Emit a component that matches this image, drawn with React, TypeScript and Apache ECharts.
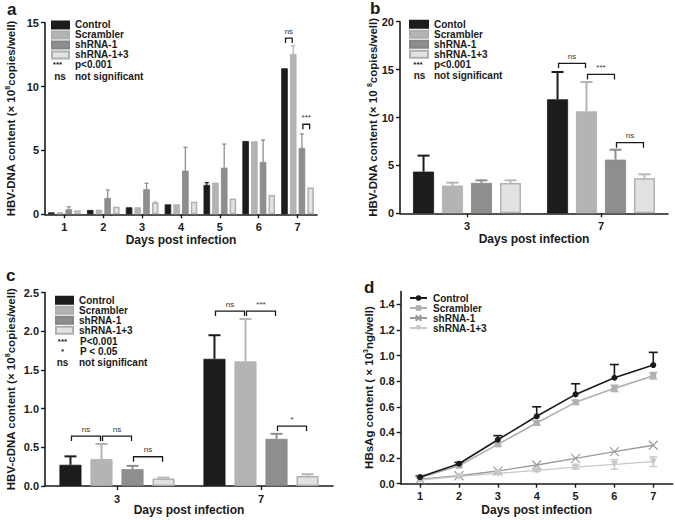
import React, { useEffect, useRef } from 'react';
import * as echarts from 'echarts';

const FONT = '"Liberation Sans", Arial, Helvetica, sans-serif';
const INK = '#1a1a1a';

// ---------- shared ----------
const groupNames = ['Control', 'Scrambler', 'shRNA-1', 'shRNA-1+3'];
const groupNamesB = ['Contol', 'Scrambler', 'shRNA-1', 'shRNA-1+3'];
const barFill = ['#1c1c1c', '#b4b4b4', '#8e8e8e', '#e2e2e2'];
const barBorder = ['#1c1c1c', '#adadad', '#858585', '#b0b0b0'];

// ---------- panel a ----------
const aDays = ['1', '2', '3', '4', '5', '6', '7'];
const aControl = [0.15, 0.34, 0.55, 0.78, 2.3, 5.74, 11.43];
const aControlSD = [0, 0, 0, 0, 0.18, 0, 0];
const aScrambler = [0.15, 0.36, 0.55, 0.78, 2.48, 5.71, 12.55];
const aScramblerSD = [0, 0, 0, 0, 0, 0, 0.65];
const aShRNA1 = [0.39, 1.28, 1.96, 3.42, 3.65, 4.1, 5.19];
const aShRNA1SD = [0.2, 0.62, 0.47, 1.82, 1.85, 1.72, 1.1];
const aShRNA13 = [0.29, 0.6, 0.92, 0.99, 1.23, 1.51, 2.09];
const aShRNA13SD = [0, 0, 0.05, 0, 0, 0, 0];
// [category, fromBar, toBar, y, label]
const aBrackets: [number, number, number, number, string][] = [
  [6, 0, 1, 13.8, 'ns'],
  [6, 2, 3, 7.05, '***'],
];

// ---------- panel b ----------
const bDays = ['3', '7'];
const bControl = [4.35, 11.9];
const bControlSD = [1.67, 2.85];
const bScrambler = [2.89, 10.64];
const bScramblerSD = [0.31, 3.06];
const bShRNA1 = [3.17, 5.6];
const bShRNA1SD = [0.27, 1.04];
const bShRNA13 = [3.17, 3.65];
const bShRNA13SD = [0.27, 0.42];
const bBrackets: [number, number, number, number, string][] = [
  [1, 0, 1, 15.66, 'ns'],
  [1, 1, 2, 14.5, '***'],
  [1, 2, 3, 7.37, 'ns'],
];

// ---------- panel c ----------
const cDays = ['3', '7'];
const cControl = [0.274, 1.643];
const cControlSD = [0.109, 0.305];
const cScrambler = [0.348, 1.609];
const cScramblerSD = [0.195, 0.548];
const cShRNA1 = [0.217, 0.609];
const cShRNA1SD = [0.043, 0.065];
const cShRNA13 = [0.096, 0.13];
const cShRNA13SD = [0.013, 0.022];
const cBrackets: [number, number, number, number, string][] = [
  [0, 0, 1, 0.645, 'ns'],
  [0, 1, 2, 0.645, 'ns'],
  [0, 2, 3, 0.378, 'ns'],
  [1, 0, 1, 2.26, 'ns'],
  [1, 1, 2, 2.26, '***'],
  [1, 2, 3, 0.774, '*'],
];

// ---------- panel d ----------
const dDays = ['1', '2', '3', '4', '5', '6', '7'];
const dControl = [0.052, 0.156, 0.343, 0.526, 0.697, 0.827, 0.926];
const dControlSD = [0.005, 0.01, 0.032, 0.074, 0.083, 0.103, 0.099];
const dScrambler = [0.047, 0.14, 0.307, 0.474, 0.635, 0.744, 0.843];
const dScramblerSD = [0.005, 0.01, 0.012, 0.015, 0.015, 0.025, 0.025];
const dShRNA1 = [0.036, 0.062, 0.099, 0.146, 0.198, 0.25, 0.3];
const dShRNA13 = [0.029, 0.057, 0.08, 0.104, 0.13, 0.151, 0.172];
const dShRNA13SD = [0, 0.005, 0.008, 0.01, 0.015, 0.037, 0.038];
const dTicks = [0, 0.2, 0.4, 0.6, 0.8, 1.0, 1.2, 1.4];

// ---------- helpers ----------
function axisStyle() {
  return {
    axisLine: { show: true, lineStyle: { color: INK, width: 1.6 } },
    axisTick: { show: true, length: 4, lineStyle: { color: INK, width: 1.4 } },
    splitLine: { show: false },
    nameMoveOverlap: false,
  };
}

function labelStyle(extra: any = {}) {
  return { color: INK, fontFamily: FONT, fontSize: 11, fontWeight: 'bold', margin: 6, ...extra };
}

const yNameStyle = {
  color: INK,
  fontFamily: FONT,
  fontSize: 11.5,
  fontWeight: 'bold',
  lineHeight: 14,
  rich: { sup: { fontSize: 7, fontWeight: 'bold', fontFamily: FONT, color: INK, verticalAlign: 'top', lineHeight: 6 } },
};
const xNameStyle = { color: INK, fontFamily: FONT, fontSize: 12, fontWeight: 'bold' };

function errSeries(
  means: number[], sds: number[], offset: number, color: string, lw: number, capW: number, both = false,
) {
  return {
    type: 'custom',
    silent: true,
    clip: false,
    z: 4,
    itemStyle: { color },
    data: means.map((m, i) => [i, m, sds[i]]),
    renderItem: (params: any, api: any) => {
      const i = params.dataIndex;
      const sd = sds[i];
      if (!sd) return { type: 'group', children: [] };
      const m = means[i];
      const mid = api.coord([i, m]);
      const top = api.coord([i, m + sd]);
      const bot = api.coord([i, m - sd]);
      const x = mid[0] + offset;
      const st = { stroke: color, lineWidth: lw, fill: 'none' };
      const ch: any[] = [
        { type: 'line', shape: { x1: x, y1: both ? bot[1] : mid[1], x2: x, y2: top[1] }, style: st },
        { type: 'line', shape: { x1: x - capW / 2, y1: top[1], x2: x + capW / 2, y2: top[1] }, style: st },
      ];
      if (both) {
        ch.push({ type: 'line', shape: { x1: x - capW / 2, y1: bot[1], x2: x + capW / 2, y2: bot[1] }, style: st });
      }
      return { type: 'group', children: ch };
    },
  };
}

function bracketSeries(brackets: [number, number, number, number, string][], step: number) {
  return {
    type: 'custom',
    silent: true,
    clip: false,
    z: 6,
    itemStyle: { color: '#333' },
    data: brackets.map((b) => [b[0], b[3]]),
    renderItem: (params: any, api: any) => {
      const b = brackets[params.dataIndex];
      const p = api.coord([b[0], b[3]]);
      const x1 = p[0] + (b[1] - 1.5) * step + 1;
      const x2 = p[0] + (b[2] - 1.5) * step - 1;
      const y = p[1];
      return {
        type: 'group',
        children: [
          {
            type: 'polyline',
            shape: { points: [[x1, y + 5], [x1, y], [x2, y], [x2, y + 5]] },
            style: { stroke: INK, lineWidth: 1.3, fill: 'none' },
          },
          {
            type: 'text',
            x: (x1 + x2) / 2,
            y: y - 3,
            style: {
              text: b[4], align: 'center', verticalAlign: 'bottom',
              fontSize: 8, fontFamily: FONT, fill: '#333',
            },
          },
        ],
      };
    },
  };
}

function extraText(text: string, x: number, y: number, align: string, size = 10) {
  return {
    type: 'text',
    x, y,
    style: { text, align, verticalAlign: 'middle', fontSize: size, fontWeight: 'bold', fontFamily: FONT, fill: INK },
  };
}

type BarCfg = {
  letter: string; letterPos: [number, number];
  days: string[]; names: string[];
  means: number[][]; sds: number[][];
  brackets: [number, number, number, number, string][];
  barW: number; gap: number;
  grid: { left: number; top: number; width: number; height: number };
  yMax: number; yInterval: number; yFmt: (v: number) => string;
  yName: string; yNameGap: number; xNameGap: number;
  legend: { left: number; top: number; step: number; w: number };
  extras: any[];
  whisker: number; cap: number;
};

function barOption(c: BarCfg) {
  const step = c.barW * (1 + c.gap);
  const series: any[] = [];
  c.names.forEach((n, i) => {
    series.push({
      type: 'bar', name: n, data: c.means[i], barWidth: c.barW, barGap: `${c.gap * 100}%`,
      itemStyle: { color: barFill[i], borderColor: barBorder[i], borderWidth: i === 3 ? 1.5 : 0.8 },
      silent: true,
    });
  });
  c.names.forEach((n, i) => {
    series.push(errSeries(c.means[i], c.sds[i], (i - 1.5) * step, i === 3 ? '#b8b8b8' : barFill[i], c.whisker, c.cap));
  });
  series.push(bracketSeries(c.brackets, step));
  return {
    animation: false,
    backgroundColor: '#fff',
    title: {
      text: c.letter, left: c.letterPos[0], top: c.letterPos[1], padding: 0,
      textStyle: { fontFamily: FONT, fontSize: 17, fontWeight: 'bold', color: INK },
    },
    legend: {
      orient: 'vertical', left: c.legend.left, top: c.legend.top, padding: 0,
      itemWidth: c.legend.w, itemHeight: 7, itemGap: 0, icon: 'rect', selectedMode: false,
      data: c.names,
      textStyle: { fontFamily: FONT, fontSize: 10, fontWeight: 'bold', color: INK, lineHeight: c.legend.step, padding: [0, 0, 0, 1] },
    },
    grid: { ...c.grid, outerBoundsMode: 'none', containLabel: false },
    xAxis: {
      type: 'category', data: c.days, ...axisStyle(),
      axisTick: { show: true, alignWithLabel: true, length: 4, lineStyle: { color: INK, width: 1.4 } },
      axisLabel: labelStyle({ margin: 7 }),
      name: 'Days post infection', nameLocation: 'middle', nameGap: c.xNameGap, nameTextStyle: xNameStyle,
    },
    yAxis: {
      type: 'value', min: 0, max: c.yMax, interval: c.yInterval, ...axisStyle(),
      axisLabel: labelStyle({ formatter: c.yFmt }),
      name: c.yName, nameLocation: 'middle', nameGap: c.yNameGap, nameTextStyle: yNameStyle,
    },
    graphic: c.extras,
    series,
  };
}

const optA = barOption({
  letter: 'a', letterPos: [7, 1],
  days: aDays, names: groupNames,
  means: [aControl, aScrambler, aShRNA1, aShRNA13],
  sds: [aControlSD, aScramblerSD, aShRNA1SD, aShRNA13SD],
  brackets: aBrackets, barW: 6.5, gap: 0.34,
  grid: { left: 45, top: 22.7, width: 272, height: 191.6 },
  yMax: 15, yInterval: 5, yFmt: (v) => String(v),
  yName: 'HBV-DNA content (× 10{sup|8}copies/well)', yNameGap: 27, xNameGap: 20,
  legend: { left: 51, top: 19.9, step: 9.3, w: 17 },
  extras: [
    extraText('***', 57.5, 64, 'center', 8),
    extraText('p<0.001', 75, 64.5, 'left'),
    extraText('ns', 60, 76, 'center'),
    extraText('not significant', 75, 76, 'left'),
  ],
  whisker: 1.3, cap: 4,
});

const optB = barOption({
  letter: 'b', letterPos: [35, 0],
  days: bDays, names: groupNamesB,
  means: [bControl, bScrambler, bShRNA1, bShRNA13],
  sds: [bControlSD, bScramblerSD, bShRNA1SD, bShRNA13SD],
  brackets: bBrackets, barW: 21, gap: 0.38,
  grid: { left: 65, top: 21.7, width: 268, height: 191.6 },
  yMax: 20, yInterval: 5, yFmt: (v) => String(v),
  yName: 'HBV-DNA content (× 10 {sup|8}copies/well)', yNameGap: 20, xNameGap: 20,
  legend: { left: 74, top: 19.2, step: 8.8, w: 18 },
  extras: [
    extraText('***', 83, 64.5, 'center', 8),
    extraText('p<0.001', 99, 64.5, 'left'),
    extraText('ns', 84.5, 75, 'center'),
    extraText('not significant', 99, 75, 'left'),
  ],
  whisker: 2, cap: 12,
});

const optC = barOption({
  letter: 'c', letterPos: [6, 12],
  days: cDays, names: groupNames,
  means: [cControl, cScrambler, cShRNA1, cShRNA13],
  sds: [cControlSD, cScramblerSD, cShRNA1SD, cShRNA13SD],
  brackets: cBrackets, barW: 22, gap: 0.41,
  grid: { left: 45, top: 37.5, width: 288, height: 193.5 },
  yMax: 2.5, yInterval: 0.5, yFmt: (v) => v.toFixed(1),
  yName: 'HBV-cDNA content (× 10{sup|8}copies/well)', yNameGap: 27, xNameGap: 18,
  legend: { left: 55, top: 40.2, step: 9.7, w: 17 },
  extras: [
    extraText('***', 62.5, 86, 'center', 8),
    extraText('P<0.001', 80, 86, 'left'),
    extraText('*', 62.5, 96.5, 'center', 8),
    extraText('P < 0.05', 80, 96.5, 'left'),
    extraText('ns', 62.5, 107, 'center'),
    extraText('not significant', 79, 107, 'left'),
  ],
  whisker: 2, cap: 12,
});

const dColors = ['#1a1a1a', '#b0b0b0', '#9a9a9a', '#c8c8c8'];
const optD = {
  animation: false,
  backgroundColor: '#fff',
  title: {
    text: 'd', left: 29, top: 24, padding: 0,
    textStyle: { fontFamily: FONT, fontSize: 17, fontWeight: 'bold', color: INK },
  },
  legend: {
    orient: 'vertical', left: 74, top: 38, padding: 0,
    itemWidth: 17, itemHeight: 7, itemGap: 0, selectedMode: false,
    data: groupNames,
    textStyle: { fontFamily: FONT, fontSize: 10, fontWeight: 'bold', color: INK, lineHeight: 9.3, padding: [0, 0, 0, 1] },
  },
  grid: { left: 65.7, top: 36.5, width: 272, height: 192.2, outerBoundsMode: 'none', containLabel: false },
  xAxis: {
    type: 'category', data: dDays, ...axisStyle(),
    axisTick: { show: true, alignWithLabel: true, length: 4, lineStyle: { color: INK, width: 1.4 } },
    axisLabel: labelStyle({ margin: 7 }),
    name: 'Days post infection', nameLocation: 'middle', nameGap: 20, nameTextStyle: xNameStyle,
  },
  yAxis: {
    type: 'value', min: 0, max: 1.5, ...axisStyle(),
    axisTick: { show: true, length: 4, lineStyle: { color: INK, width: 1.4 }, customValues: dTicks },
    axisLabel: labelStyle({ customValues: dTicks, formatter: (v: number) => v.toFixed(1) }),
    name: 'HBsAg content ( × 10{sup|3}ng/well)', nameLocation: 'middle', nameGap: 25, nameTextStyle: yNameStyle,
  },
  series: [
    {
      type: 'line', name: 'Control', data: dControl, symbol: 'circle', symbolSize: 6, z: 5,
      lineStyle: { color: dColors[0], width: 1.6 }, itemStyle: { color: dColors[0] },
    },
    {
      type: 'line', name: 'Scrambler', data: dScrambler, symbol: 'rect', symbolSize: 6, z: 4,
      lineStyle: { color: dColors[1], width: 1.6 }, itemStyle: { color: dColors[1] },
    },
    {
      type: 'line', name: 'shRNA-1', data: dShRNA1, symbol: 'path://M0,0L10,10M10,0L0,10', symbolSize: 9, z: 3,
      lineStyle: { color: dColors[2], width: 1.3 }, itemStyle: { color: dColors[2], borderColor: dColors[2], borderWidth: 1.1 },
    },
    {
      type: 'line', name: 'shRNA-1+3', data: dShRNA13, symbol: 'triangle', symbolRotate: 180, symbolSize: 7, z: 3,
      lineStyle: { color: dColors[3], width: 1.3 }, itemStyle: { color: dColors[3] },
    },
    errSeries(dControl, dControlSD, 0, dColors[0], 1.6, 9),
    errSeries(dScrambler, dScramblerSD, 0, dColors[1], 1.4, 8, true),
    errSeries(dShRNA13, dShRNA13SD, 0, dColors[3], 1.4, 8, true),
  ],
};

function Chart({ option, box }: { option: any; box: [number, number, number, number] }) {
  const ref = useRef<HTMLDivElement>(null);
  useEffect(() => {
    const chart = echarts.init(ref.current!, undefined, { renderer: 'svg' });
    chart.setOption(option);
    return () => chart.dispose();
  }, [option]);
  return (
    <div
      ref={ref}
      style={{ position: 'absolute', left: box[0], top: box[1], width: box[2], height: box[3] }}
    />
  );
}

export default function App() {
  return (
    <div style={{ position: 'absolute', left: 0, top: 0, width: 675, height: 520, background: '#fff' }}>
      <Chart option={optA} box={[0, 0, 335, 255]} />
      <Chart option={optB} box={[335, 0, 340, 255]} />
      <Chart option={optC} box={[0, 255, 335, 265]} />
      <Chart option={optD} box={[335, 255, 340, 265]} />
    </div>
  );
}
